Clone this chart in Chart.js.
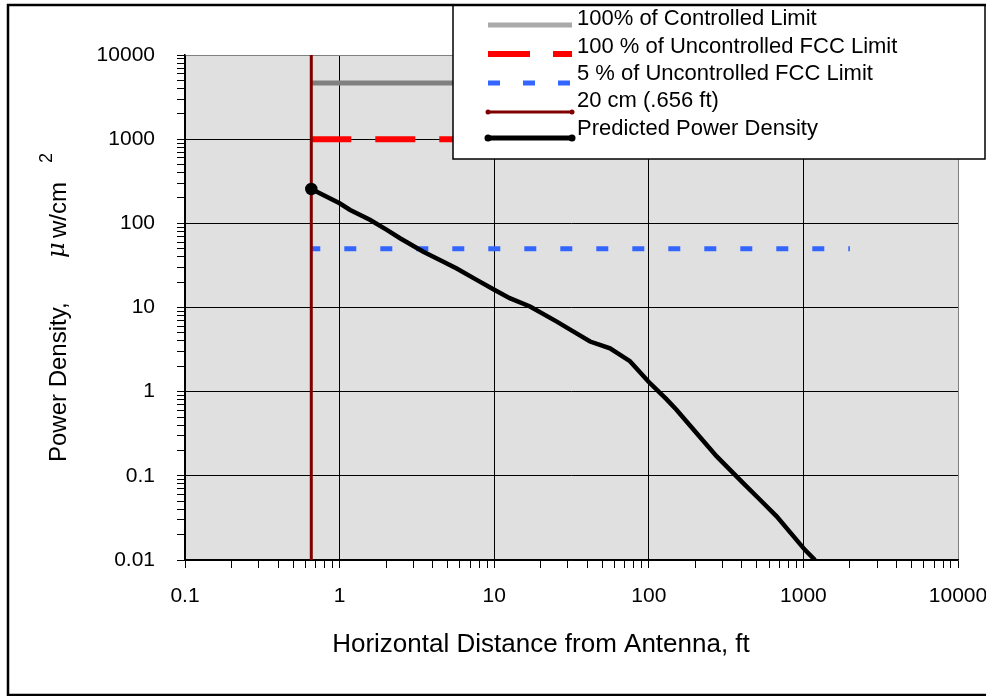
<!DOCTYPE html>
<html>
<head>
<meta charset="utf-8">
<script src="https://cdn.jsdelivr.net/npm/chart.js@4.4.1/dist/chart.umd.min.js"></script>
<style>
  html, body { margin: 0; padding: 0; background: #fff; }
  #wrap { width: 986px; height: 696px; position: relative; }
</style>
</head>
<body>
<div id="wrap"><canvas id="chart" width="986" height="696"></canvas></div>
<script>
// Predicted power density curve (ft, uW/cm2)
const curveX = [0.656, 1, 1.17, 1.57, 2.02, 2.46, 3.48, 4.69, 5.72, 7.7, 9.87, 12.6, 17.05, 25.4, 32.4, 41.7, 48.3, 56.1, 75.5, 87.7, 99.3, 130, 151, 204, 275, 408, 524, 671, 1023, 1189];
const curveY = [256, 173, 144, 110, 83.5, 66.5, 46, 35, 29, 21.3, 16.5, 12.9, 10.3, 6.8, 5.2, 3.94, 3.6, 3.28, 2.3, 1.7, 1.32, 0.815, 0.61, 0.32, 0.17, 0.082, 0.052, 0.033, 0.0132, 0.01];

// Limit lines
const limitX = [0.656, 2000];
const controlledLimit = [4650, 4650];
const uncontrolledLimit = [1000, 1000];
const fivePctLimit = [50, 50];

// 20 cm separation line
const sepX = [0.656, 0.656];
const sepY = [0.01, 10000];

// Axis decades
const xTickLabels = [0.1, 1, 10, 100, 1000, 10000];
const yTickLabels = [0.01, 0.1, 1, 10, 100, 1000, 10000];

const legendNames = [
    '100% of Controlled Limit',
    '100 % of Uncontrolled FCC Limit',
    '5 % of Uncontrolled FCC Limit',
    '20 cm (.656 ft)',
    'Predicted Power Density'
];

const FONT = '"Liberation Sans", Arial, sans-serif';

function pts(xs, ys) {
    return xs.map((x, i) => ({ x: x, y: ys[i] }));
}

// majors plus 2..9 minors for a log axis
function logTicks(decades) {
    const out = [];
    decades.forEach((d, i) => {
        out.push({ value: d, major: true });
        if (i < decades.length - 1) {
            for (let m = 2; m <= 9; m++) out.push({ value: d * m, major: false });
        }
    });
    return out;
}

function isMajor(v, decades) {
    return decades.some(d => Math.abs(v - d) / d < 1e-9);
}

const plotBg = {
    id: 'plotBg',
    beforeDraw(chart) {
        const a = chart.chartArea, c = chart.ctx;
        c.save();
        c.fillStyle = '#e0e0e0';
        c.fillRect(a.left, a.top, a.right - a.left, a.bottom - a.top);
        c.restore();
    }
};

const decorations = {
    id: 'decorations',
    afterDraw(chart) {
        const c = chart.ctx;
        c.save();

        // legend box
        c.fillStyle = '#fff';
        c.fillRect(453, 5, 532, 154);
        c.strokeStyle = '#000';
        c.lineWidth = 1.5;
        c.strokeRect(453, 5, 532, 154);

        const rows = [
            { color: '#aaaaaa', width: 5, dash: [] },
            { color: '#ff0000', width: 6, dash: [42, 23] },
            { color: '#3366ff', width: 5, dash: [12, 23] },
            { color: '#800000', width: 3, dash: [], dot: 2.5 },
            { color: '#000000', width: 5, dash: [], dot: 3.5 }
        ];
        const lineY = [25, 54, 83, 112, 138];
        const textY = [19, 47, 74, 101, 129];
        c.font = '22px ' + FONT;
        c.textBaseline = 'middle';
        c.textAlign = 'left';
        rows.forEach((r, i) => {
            c.strokeStyle = r.color;
            c.lineWidth = r.width;
            c.setLineDash(r.dash);
            c.lineCap = 'butt';
            c.beginPath();
            c.moveTo(488, lineY[i]);
            c.lineTo(572, lineY[i]);
            c.stroke();
            c.setLineDash([]);
            if (r.dot) {
                c.fillStyle = r.color;
                [488, 572].forEach(px => {
                    c.beginPath();
                    c.arc(px, lineY[i], r.dot, 0, Math.PI * 2);
                    c.fill();
                });
            }
            c.fillStyle = '#000';
            c.fillText(legendNames[i], 577, textY[i]);
        });

        // axis titles
        c.fillStyle = '#000';
        c.font = '26px ' + FONT;
        c.textAlign = 'center';
        c.textBaseline = 'middle';
        c.fillText('Horizontal Distance from Antenna, ft', 541, 645);

        c.save();
        c.rotate(-Math.PI / 2);
        c.textAlign = 'left';
        c.textBaseline = 'alphabetic';
        c.font = '24px ' + FONT;
        c.fillText('Power Density,', -462, 66);
        c.font = 'italic 24px "DejaVu Serif", serif';
        c.fillText('\u03bc', -258, 64);
        c.font = '24px ' + FONT;
        c.fillText('w/cm', -238, 66);
        c.font = '18px ' + FONT;
        c.fillText('2', -163, 52);
        c.restore();

        // outer frame (right side runs off the picture, as in the original)
        c.strokeStyle = '#000';
        c.lineWidth = 2.5;
        c.strokeRect(8, 5, 990, 690);
        c.restore();
    }
};

function gridColor(decades) {
    return ctx => {
        const v = ctx.tick && ctx.tick.value;
        if (v === undefined || !isMajor(v, decades)) return 'rgba(0,0,0,0)';
        if (v === decades[decades.length - 1]) return '#808080';
        return '#000';
    };
}

new Chart(document.getElementById('chart'), {
    type: 'line',
    data: {
        datasets: [
            {
                label: legendNames[4],
                data: pts(curveX, curveY),
                borderColor: '#000',
                backgroundColor: '#000',
                borderWidth: 4.5,
                pointRadius: curveX.map((_, i) => i === 0 ? 4 : 0),
                tension: 0
            },
            {
                label: legendNames[3],
                data: pts(sepX, sepY),
                borderColor: '#800000',
                borderWidth: 3,
                pointRadius: 0
            },
            {
                label: legendNames[2],
                data: pts(limitX, fivePctLimit),
                borderColor: '#3366ff',
                borderWidth: 5,
                borderDash: [12, 24],
                borderDashOffset: 3,
                borderCapStyle: 'butt',
                pointRadius: 0
            },
            {
                label: legendNames[1],
                data: pts(limitX, uncontrolledLimit),
                borderColor: '#ff0000',
                borderWidth: 6,
                borderDash: [40, 24],
                borderCapStyle: 'butt',
                pointRadius: 0
            },
            {
                label: legendNames[0],
                data: pts(limitX, controlledLimit),
                borderColor: '#808080',
                borderWidth: 5,
                pointRadius: 0
            }
        ]
    },
    options: {
        responsive: false,
        animation: false,
        events: [],
        layout: { padding: { top: 55, right: 28, left: 0, bottom: 0 } },
        plugins: {
            legend: { display: false },
            tooltip: { enabled: false }
        },
        scales: {
            x: {
                type: 'logarithmic',
                min: 0.1,
                max: 10000,
                afterBuildTicks: s => { s.ticks = logTicks(xTickLabels); },
                afterFit: s => { s.height = 136; s.paddingLeft = 0; s.paddingRight = 0; },
                ticks: {
                    autoSkip: false,
                    maxRotation: 0,
                    padding: 16,
                    color: '#000',
                    font: { family: FONT, size: 21 },
                    callback: v => isMajor(v, xTickLabels) ? String(v) : ''
                },
                grid: {
                    color: gridColor(xTickLabels),
                    tickColor: '#000',
                    tickLength: 8,
                    lineWidth: 1
                },
                border: { color: '#000', width: 1.5 }
            },
            y: {
                type: 'logarithmic',
                min: 0.01,
                max: 10000,
                afterBuildTicks: s => { s.ticks = logTicks(yTickLabels); },
                afterFit: s => { s.width = 185; s.paddingTop = 0; s.paddingBottom = 0; },
                ticks: {
                    autoSkip: false,
                    padding: 22,
                    color: '#000',
                    font: { family: FONT, size: 21 },
                    callback: v => isMajor(v, yTickLabels) ? String(v) : ''
                },
                grid: {
                    color: gridColor(yTickLabels),
                    tickColor: '#000',
                    tickLength: 8,
                    lineWidth: 1
                },
                border: { color: '#000', width: 1.5 }
            }
        }
    },
    plugins: [plotBg, decorations]
});
</script>
</body>
</html>
